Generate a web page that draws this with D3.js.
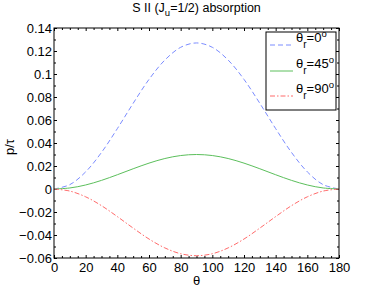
<!DOCTYPE html>
<html><head><meta charset="utf-8">
<script src="https://cdn.jsdelivr.net/npm/d3@7"></script>
<style>body{margin:0;background:#fff}svg{display:block;font-family:"Liberation Sans",Arial,Helvetica,sans-serif}</style>
</head><body>
<script>
const theta = [0,10,20,30,40,50,60,70,80,90,100,110,120,130,140,150,160,170,180];
const pTheta0 = [0,0.0038,0.0149,0.0318,0.0525,0.0745,0.0953,0.1121,0.1232,0.127,0.1232,0.1121,0.0953,0.0745,0.0525,0.0318,0.0149,0.0038,0];
const pTheta45 = [0,0.0009,0.0035,0.0075,0.0124,0.0176,0.0225,0.0265,0.0291,0.030,0.0291,0.0265,0.0225,0.0176,0.0124,0.0075,0.0035,0.0009,0];
const pTheta90 = [0,-0.0018,-0.0068,-0.0145,-0.0240,-0.0340,-0.0435,-0.0512,-0.0563,-0.058,-0.0563,-0.0512,-0.0435,-0.0340,-0.0240,-0.0145,-0.0068,-0.0018,0];
const xTicks = [0,20,40,60,80,100,120,140,160,180];
const yTicks = [-0.06,-0.04,-0.02,0,0.02,0.04,0.06,0.08,0.1,0.12,0.14];
const seriesNames = ["0","45","90"];
const titleMain = "S II (J", titleSub = "u", titleRest = "=1/2) absorption";

const W=374,H=291, L=54,R=339,T=28,B=258;
const svg = d3.select("body").append("svg").attr("width",W).attr("height",H);
const x = d3.scaleLinear().domain([0,180]).range([L,R]);
const y = d3.scaleLinear().domain([-0.06,0.14]).range([B,T]);
const fmt = v => v===0 ? "0" : (v<0 ? "\u2212" : "") + String(+Math.abs(v).toFixed(2));

svg.append("rect").attr("x",L).attr("y",T).attr("width",R-L).attr("height",B-T).attr("fill","#fff");

const xMinor = d3.range(0,181,5).filter(v=>v%20!==0);
const yMinor = d3.range(-6,15,1).filter(v=>v%2!==0).map(v=>v/100);

function styleAxis(g){ g.select(".domain").remove(); g.selectAll("line").attr("stroke","#000"); g.selectAll("text").attr("font-size",13).attr("fill","#000").attr("font-family","Liberation Sans, Arial, sans-serif"); }

svg.append("g").attr("transform",`translate(0,${B})`).call(d3.axisBottom(x).tickValues(xTicks).tickFormat(d3.format("d")).tickSize(-3).tickPadding(5)).call(styleAxis);
svg.append("g").attr("transform",`translate(0,${B})`).call(d3.axisBottom(x).tickValues(xMinor).tickFormat("").tickSize(-2)).call(styleAxis);
svg.append("g").attr("transform",`translate(0,${T})`).call(d3.axisTop(x).tickValues(xTicks).tickFormat("").tickSize(-3)).call(styleAxis);
svg.append("g").attr("transform",`translate(0,${T})`).call(d3.axisTop(x).tickValues(xMinor).tickFormat("").tickSize(-2)).call(styleAxis);
svg.append("g").attr("transform",`translate(${L},0)`).call(d3.axisLeft(y).tickValues(yTicks).tickFormat(fmt).tickSize(-3).tickPadding(2)).call(styleAxis);
svg.append("g").attr("transform",`translate(${L},0)`).call(d3.axisLeft(y).tickValues(yMinor).tickFormat("").tickSize(-2)).call(styleAxis);
svg.append("g").attr("transform",`translate(${R},0)`).call(d3.axisRight(y).tickValues(yTicks).tickFormat("").tickSize(-3)).call(styleAxis);
svg.append("g").attr("transform",`translate(${R},0)`).call(d3.axisRight(y).tickValues(yMinor).tickFormat("").tickSize(-2)).call(styleAxis);

const styles = [
  {data:pTheta0, color:"#7b8cff", dash:"5,3"},
  {data:pTheta45, color:"#5cbf5c", dash:null},
  {data:pTheta90, color:"#ff6b6b", dash:"5,2,1.5,2"}
];
const line = d3.line().x((d,i)=>x(theta[i])).y(d=>y(d)).curve(d3.curveCatmullRom.alpha(0.5));
styles.forEach(s=>{
  svg.append("path").attr("d",line(s.data)).attr("fill","none").attr("stroke",s.color).attr("stroke-width",1).attr("stroke-dasharray",s.dash);
});

svg.append("rect").attr("x",L).attr("y",T).attr("width",R-L).attr("height",B-T).attr("fill","none").attr("stroke","#000").attr("stroke-width",1);

// title
const tt = svg.append("text").attr("x",(L+R)/2).attr("y",12).attr("text-anchor","middle").attr("font-size",12.5);
tt.append("tspan").text(titleMain);
tt.append("tspan").attr("dy",4).attr("font-size",9.5).text(titleSub);
tt.append("tspan").attr("dy",-4).text(titleRest);

// axis labels
svg.append("text").attr("x",(L+R)/2).attr("y",285).attr("text-anchor","middle").attr("font-size",13).text("\u03b8");
svg.append("text").attr("transform","translate(14,147) rotate(-90)").attr("text-anchor","middle").attr("font-size",13).text("p/\u03c4");

// legend
const lg = svg.append("g");
lg.append("rect").attr("x",266).attr("y",32).attr("width",70).attr("height",78).attr("fill","#fff").attr("stroke","#000").attr("stroke-width",1);
const ly = [45,71,96];
styles.forEach((s,i)=>{
  lg.append("line").attr("x1",270).attr("x2",293).attr("y1",ly[i]).attr("y2",ly[i]).attr("stroke",s.color).attr("stroke-width",1).attr("stroke-dasharray",s.dash);
  const t = lg.append("text").attr("x",296).attr("y",ly[i]-3).attr("font-size",13);
  t.append("tspan").text("\u03b8");
  t.append("tspan").attr("dy",6).attr("font-size",10).text("r");
  t.append("tspan").attr("dy",-6).text("="+seriesNames[i]);
  t.append("tspan").attr("dy",-5).attr("font-size",9.5).text("o");
});
</script>
</body></html>
